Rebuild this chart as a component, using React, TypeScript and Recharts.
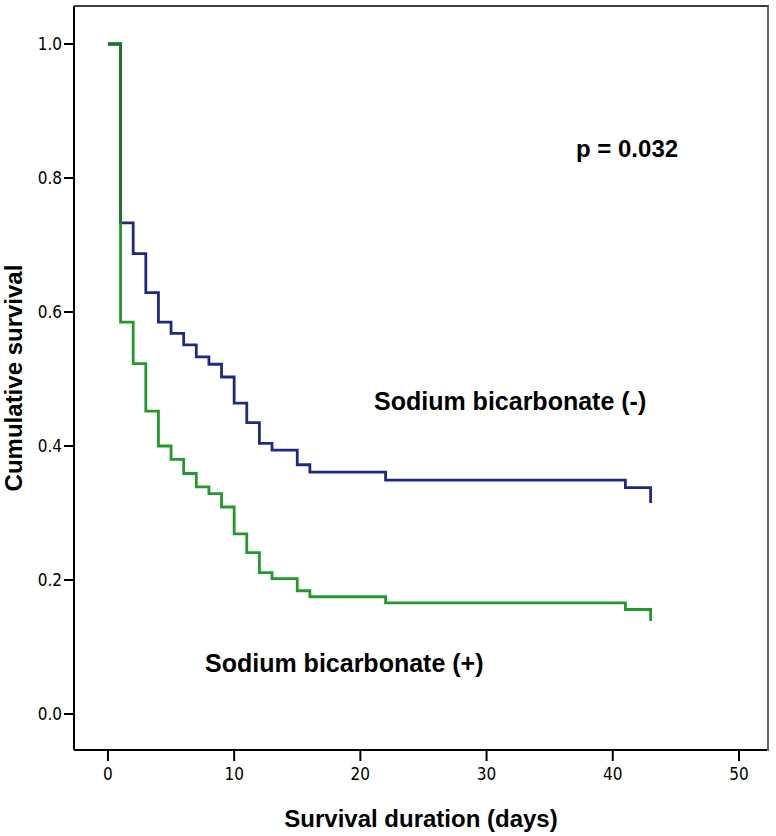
import React from "react";
import { LineChart, Line, XAxis, YAxis } from "recharts";

const DAYS_NEG = [0, 1, 2, 3, 4, 5, 6, 7, 8, 9, 10, 11, 12, 13, 15, 16, 22, 41, 43];
const SURV_NEG = [1, 0.733, 0.687, 0.629, 0.585, 0.568, 0.551, 0.533, 0.522, 0.503, 0.464, 0.435, 0.404, 0.394, 0.372, 0.361, 0.349, 0.338, 0.315];

const DAYS_POS = [0, 1, 2, 3, 4, 5, 6, 7, 8, 9, 10, 11, 12, 13, 15, 16, 22, 41, 43];
const SURV_POS = [1, 0.585, 0.523, 0.452, 0.4, 0.38, 0.359, 0.339, 0.329, 0.309, 0.269, 0.241, 0.211, 0.202, 0.184, 0.175, 0.166, 0.156, 0.139];

// both groups share the first step (0 -> day 1)
const DAYS_SHARED = [0, 1];
const SURV_SHARED = [1, 0.733];

const X_TICKS = [0, 10, 20, 30, 40, 50];
const Y_TICKS = [0, 0.2, 0.4, 0.6, 0.8, 1.0];

const toRows = (days: number[], surv: number[]) =>
  days.map((d, i) => ({ day: d, surv: surv[i] }));

const negRows = toRows(DAYS_NEG, SURV_NEG);
const posRows = toRows(DAYS_POS, SURV_POS);
const sharedRows = toRows(DAYS_SHARED, SURV_SHARED);

const BLUE = "#1d2a85";
const GREEN = "#22992b";
const DARK_GREEN = "#1b772b";

const tickFont = {
  fontSize: 17,
  fill: "#000",
  fontFamily: "'Liberation Sans Narrow', 'DejaVu Sans Condensed', Arial, sans-serif",
};
const boldFont = "'Liberation Sans', Arial, sans-serif";

const noteStyle: React.CSSProperties = {
  position: "absolute",
  fontWeight: "bold",
  fontFamily: boldFont,
  whiteSpace: "nowrap",
  color: "#000",
  lineHeight: 1.15,
};

export default function App() {
  return (
    <div style={{ position: "absolute", left: 0, top: 0, width: 776, height: 836, background: "#fff" }}>
      <LineChart width={776} height={836} margin={{ top: 6, right: 8, bottom: 0, left: 0 }}>
        <XAxis
          type="number"
          dataKey="day"
          domain={[-2.69, 52.3]}
          ticks={X_TICKS}
          allowDataOverflow
          height={86}
          tick={tickFont}
          tickSize={11}
          tickMargin={7}
          axisLine={{ stroke: "#000", strokeWidth: 2 }}
          tickLine={{ stroke: "#000", strokeWidth: 2 }}
          label={{
            value: "Survival duration (days)",
            position: "insideBottom",
            offset: 9,
            style: { fontSize: 24, fontWeight: "bold", fill: "#000", fontFamily: boldFont },
          }}
        />
        <YAxis
          type="number"
          domain={[-0.0537, 1.0567]}
          ticks={Y_TICKS}
          allowDataOverflow
          width={74}
          tick={tickFont}
          tickSize={10}
          tickMargin={2}
          tickFormatter={(v: number) => v.toFixed(1)}
          axisLine={{ stroke: "#000", strokeWidth: 2 }}
          tickLine={{ stroke: "#000", strokeWidth: 2 }}
          label={{
            value: "Cumulative survival",
            angle: -90,
            position: "insideLeft",
            offset: 13,
            style: { fontSize: 24, fontWeight: "bold", fill: "#000", fontFamily: boldFont, textAnchor: "middle" },
          }}
        />
        <Line
          data={negRows}
          dataKey="surv"
          type="stepAfter"
          stroke={BLUE}
          strokeWidth={2.8}
          dot={false}
          isAnimationActive={false}
        />
        <Line
          data={posRows}
          dataKey="surv"
          type="stepAfter"
          stroke={GREEN}
          strokeWidth={2.8}
          dot={false}
          isAnimationActive={false}
        />
        <Line
          data={sharedRows}
          dataKey="surv"
          type="stepAfter"
          stroke={DARK_GREEN}
          strokeWidth={2.8}
          dot={false}
          isAnimationActive={false}
        />
      </LineChart>
      {/* top and right edges of the plot frame */}
      <div
        style={{
          position: "absolute",
          left: 74,
          top: 5,
          width: 695,
          height: 746,
          boxSizing: "border-box",
          borderTop: "2px solid #3c3c3c",
          borderRight: "2px solid #666",
          pointerEvents: "none",
        }}
      />
      <div style={{ ...noteStyle, left: 576, top: 135, fontSize: 24 }}>p = 0.032</div>
      <div style={{ ...noteStyle, left: 374, top: 387, fontSize: 25 }}>Sodium bicarbonate (-)</div>
      <div style={{ ...noteStyle, left: 205, top: 649, fontSize: 25 }}>Sodium bicarbonate (+)</div>
    </div>
  );
}
